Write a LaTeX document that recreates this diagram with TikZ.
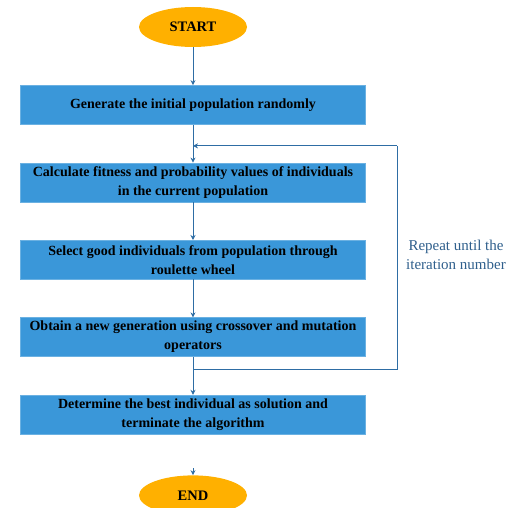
\documentclass[tikz,border=0pt]{standalone}
\usepackage{fontspec}
\setmainfont{Liberation Serif}
\usetikzlibrary{positioning,calc,shapes.geometric,arrows.meta}

\definecolor{boxblue}{RGB}{58,151,217}
\definecolor{lineblue}{RGB}{46,109,164}
\definecolor{termyellow}{RGB}{255,176,0}
\definecolor{noteblue}{RGB}{47,95,140}

\tikzset{
  process/.style={rectangle, fill=boxblue, draw=boxblue!75!white,
    minimum width=345pt, minimum height=39pt, align=center, inner sep=1pt,
    font=\bfseries\fontsize{14}{19}\selectfont},
  terminal/.style={ellipse, fill=termyellow, minimum width=108pt,
    minimum height=40pt, font=\bfseries\fontsize{14.5}{16}\selectfont},
  flow/.style={draw=lineblue, line width=0.8pt, -{Stealth[length=5pt,width=5pt]}},
  loopline/.style={draw=lineblue, line width=0.8pt},
  note/.style={align=center, text=noteblue, font=\fontsize{15}{19}\selectfont}
}

\begin{document}
\begin{tikzpicture}[x=1pt,y=-1pt,node distance=38pt]
  \useasboundingbox (0,0) rectangle (515,508);
  % main column of the flow chart
  \node[terminal] (start) at (193,27) {START};
  \node[process] (init) [below=of start] {Generate the initial population randomly};
  \node[process] (calc) [below=of init] {Calculate fitness and probability values of individuals\\in the current population};
  \node[process] (select) [below=of calc] {Select good individuals from population through\\roulette wheel};
  \node[process] (oper) [below=of select] {Obtain a new generation using crossover and mutation\\operators};
  \node[process] (best) [below=of oper] {Determine the best individual as solution and\\terminate the algorithm};
  \node[terminal] (stop) [below=41pt of best] {END};
  % straight arrows
  \draw[flow] (start) -- (init);
  \draw[flow] (init) -- (calc);
  \draw[flow] (calc) -- (select);
  \draw[flow] (select) -- (oper);
  \draw[flow] (oper) -- (best);
  \coordinate (endtip) at ($(stop.north)+(0,-7)$);
  \draw[flow] (endtip) -- (stop);
  % the loop back to the fitness step
  \coordinate (loopout) at ($(oper.south)!0.32!(best.north)$);
  \coordinate (loopin) at ($(init.south)!0.56!(calc.north)$);
  \coordinate (loopcorner) at ($(loopin)+(204,0)$);
  \draw[loopline] (loopout) -| (loopcorner);
  \draw[flow] (loopcorner) -- (loopin);
  \node[note] (repeat) at (456,255) {Repeat until the\\iteration number};
\end{tikzpicture}
\end{document}
